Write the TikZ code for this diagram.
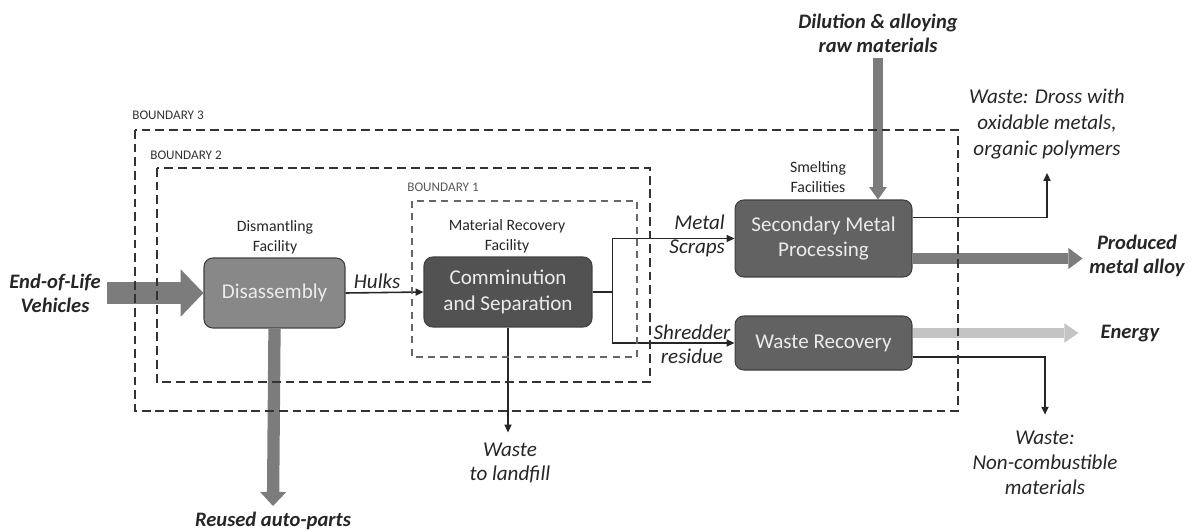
\documentclass[tikz,border=0pt]{standalone}
\usepackage{fontspec}
\setmainfont{Carlito}
\usepackage{tikz}
\usetikzlibrary{arrows.meta, positioning, calc}

\definecolor{procmid}{HTML}{888888}
\definecolor{procdark}{HTML}{525252}
\definecolor{procgray}{HTML}{626262}
\definecolor{bulkgray}{HTML}{7C7C7C}
\definecolor{energygray}{HTML}{C4C4C4}

\begin{document}
\begin{tikzpicture}[
  x=0.02cm, y=-0.02cm,
  proc/.style={draw=black!75, line width=0.6pt, rounded corners=5pt, text=white!92!black,
    align=center, font=\fontsize{12}{14.5}\selectfont, inner sep=2pt},
  facility/.style={align=center, text=black!85, font=\fontsize{9}{11.3}\selectfont},
  flowlbl/.style={align=center, text=black!85, font=\fontsize{12}{13.6}\selectfont\itshape},
  outlbl/.style={align=center, text=black!85, font=\fontsize{11.7}{13.6}\selectfont\bfseries\itshape},
  bnd/.style={draw=black!80, line width=1.3pt, dash pattern=on 5pt off 2.8pt},
  bndlbl/.style={anchor=south west, inner sep=0pt, text=black!80, font=\fontsize{7.5}{9}\selectfont},
  flow/.style={draw=black!85, line width=0.9pt, -{Triangle[length=4.5pt,width=4pt]}},
]
\useasboundingbox (0,0) rectangle (1193,531);

% process boxes
\node[proc, fill=procmid, minimum width=2.82cm, minimum height=1.4cm] (dis) at (274.5,293) {Disassembly};
\node[proc, fill=procdark, minimum width=3.36cm, minimum height=1.4cm] (com) at (508,292) {Comminution\\and Separation};
\node[proc, fill=procgray, minimum width=3.54cm, minimum height=1.54cm] (smp) at (823.5,238.5) {Secondary Metal\\Processing};
\node[proc, fill=procgray, minimum width=3.54cm, minimum height=1.08cm] (wr) at (823.5,343) {Waste Recovery};

% facility captions
\node[facility] (dismfac) at (275,237) {Dismantling\\Facility};
\node[facility] (mrfac) at (507,236) {Material Recovery\\Facility};
\node[facility] (smfac) at (818,177) {Smelting\\Facilities};

% inputs and outputs
\node[outlbl] (eol) at (55,293) {End-of-Life\\Vehicles};
\node[outlbl] (reused) at (273,521) {Reused auto-parts};
\node[outlbl] (dil) at (878,33) {Dilution \& alloying\\raw materials};
\node[outlbl] (prod) at (1137,256) {Produced\\metal alloy};
\node[outlbl] (energy) at (1130,334) {Energy};
\node[flowlbl] (landfill) at (510,463) {Waste\\to landfill};
\node[flowlbl, font=\fontsize{12}{14.6}\selectfont\itshape] (dross) at (1047,124) {Waste: Dross with\\oxidable metals,\\organic polymers};
\node[flowlbl, font=\fontsize{12}{14.4}\selectfont\itshape] (noncomb) at (1045,463) {Waste:\\Non-combustible\\materials};

% flow labels
\node[flowlbl] (hulks) at (377,281) {Hulks};
\node[flowlbl, anchor=east, align=right] (scraps) at (731,236) {Metal\\Scraps};
\node[flowlbl] (shred) at (692,344) {Shredder\\residue};

% bulk flows
\draw[bulkgray, line width=12pt, -{Triangle[length=13pt,width=27pt,line width=0pt]}] (eol.east) -- (dis.west);
\draw[bulkgray, line width=7pt, -{Triangle[length=8pt,width=15pt,line width=0pt]}] (dis.south) -- (reused.north);
\draw[bulkgray, line width=5.5pt, -{Triangle[length=7pt,width=10pt,line width=0pt]}] (dil.south) -- (dil.south |- smp.north);
\draw[bulkgray, line width=6pt, -{Triangle[length=8pt,width=12pt,line width=0pt]}] ($(smp.east)+(0,20)$) -- ++(170,0) coordinate (prodtip);
\draw[energygray, line width=6pt, -{Triangle[length=8pt,width=11pt,line width=0pt]}] ($(wr.east)+(0,-10)$) -- ++(166,0) coordinate (entip);

% material flows
\draw[flow] (dis.east) -- (com.west);
\draw[draw=black!85, line width=0.9pt] (com.east) -- ++(20,0) coordinate (split);
\draw[flow] (split) |- (smp.west);
\draw[flow] (split) |- (wr.west);
\draw[flow] (com.south) -- ++(0,105) coordinate (landtip);
\draw[flow] ($(smp.east)+(0,-21)$) -| ($(dross.south)+(0,8)$);
\draw[flow] ($(wr.east)+(0,14)$) -| ($(noncomb.north)+(0,-10)$);

% system boundaries
\draw[bnd] (135,130) rectangle (958,411);
\draw[bnd] (157,168) rectangle (650,382);
\draw[bnd, draw=black!60, line width=0.8pt, dash pattern=on 4pt off 3pt] (412,201) rectangle (637,357);
\node[bndlbl] (b3) at (132,120) {BOUNDARY 3};
\node[bndlbl] (b2) at (150,160) {BOUNDARY 2};
\node[bndlbl, text=black!65] (b1) at (407,192) {BOUNDARY 1};
\end{tikzpicture}
\end{document}
